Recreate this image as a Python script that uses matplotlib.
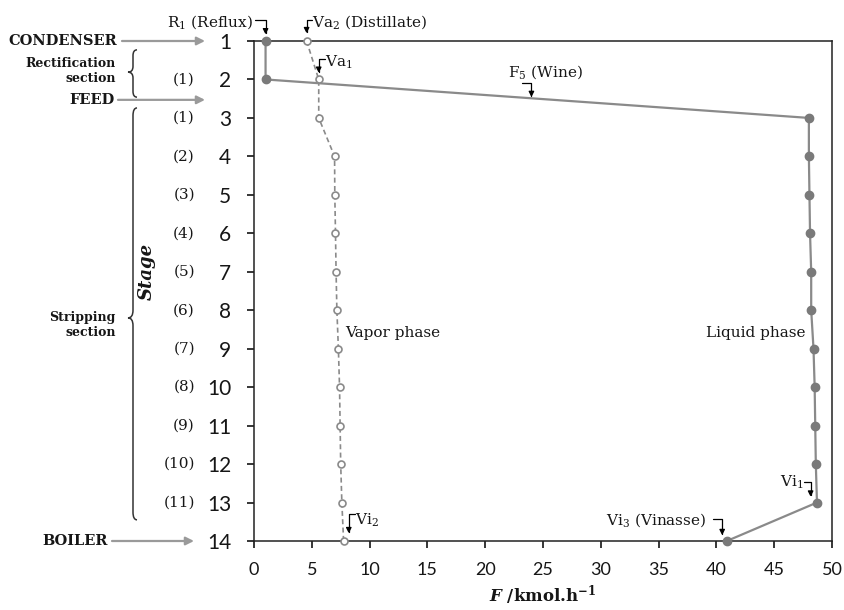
import numpy as np
import matplotlib
matplotlib.use('Agg')
import matplotlib.pyplot as plt
import matplotlib.transforms as mtransforms
from matplotlib.path import Path
from matplotlib.patches import PathPatch

plt.rcParams['mathtext.fontset'] = 'dejavuserif'

# stage numbers and flows (kmol/h)
stages = [1, 2, 3, 4, 5, 6, 7, 8, 9, 10, 11, 12, 13, 14]
liquid = [1.0, 1.0, 48.0, 48.0, 48.05, 48.1, 48.2, 48.2, 48.4, 48.5, 48.55, 48.6, 48.7, 40.9]
vapor = [4.55, 5.6, 5.6, 6.97, 6.99, 7.05, 7.1, 7.17, 7.3, 7.4, 7.45, 7.5, 7.6, 7.75]

# section numbering next to the stage ticks
sub_stages = [2, 3, 4, 5, 6, 7, 8, 9, 10, 11, 12, 13]
sub_labels = ['(1)', '(1)', '(2)', '(3)', '(4)', '(5)', '(6)', '(7)', '(8)', '(9)', '(10)', '(11)']

xticks = [0, 5, 10, 15, 20, 25, 30, 35, 40, 45, 50]

serif = 'DejaVu Serif'
txt_col = '#161616'
gray = '#8a8a8a'

fig = plt.figure(figsize=(8.45, 6.1), dpi=100)
ax = fig.add_axes([254 / 845, 1 - 541 / 610, 578 / 845, 500 / 610])

ax.plot(liquid, stages, '-', color=gray, lw=1.6, marker='o', ms=6,
        mfc='#7a7a7a', mec='#7a7a7a', clip_on=False, zorder=3)
ax.plot(vapor, stages, '--', color=gray, lw=1.2, dashes=(3, 2), marker='o', ms=5,
        mfc='white', mec=gray, mew=1.2, clip_on=False, zorder=3)

ax.set_xlim(0, 50)
ax.set_ylim(14, 1)
ax.set_xticks(xticks)
ax.set_yticks(stages)
ax.tick_params(axis='y', direction='out', length=5, width=1.1, pad=11.5, labelsize=15)
ax.tick_params(axis='x', direction='out', length=5, width=1.1, pad=10, labelsize=13)
for lab in ax.get_xticklabels() + ax.get_yticklabels():
    lab.set_fontfamily('Lato')
    lab.set_color(txt_col)
for sp in ax.spines.values():
    sp.set_linewidth(1.1)
    sp.set_color('#222222')

ax.set_xlabel(r'$\mathbfit{F}$ /kmol.h$^{\mathbf{-1}}$', fontfamily=serif,
              fontweight='bold', fontsize=12, labelpad=4, color=txt_col)

# left side annotations: x in inches from figure left, y in stage units
lt = mtransforms.blended_transform_factory(fig.dpi_scale_trans, ax.transData)

for s, lab in zip(sub_stages, sub_labels):
    ax.text(1.95, s, lab, transform=lt, ha='right', va='center', fontsize=11,
            fontfamily=serif, color=txt_col)

ax.text(1.47, 7.0, 'Stage', transform=lt, rotation=90, ha='center', va='center',
        fontsize=13, fontfamily=serif, fontstyle='italic', fontweight='bold', color=txt_col)

arrow_kw = dict(arrowstyle='-|>', color='#9a9a9a', lw=1.6, mutation_scale=12,
                shrinkA=0, shrinkB=0)
side = [('CONDENSER', 1.17, 1.0, 1.22, 2.05),
        ('FEED', 1.15, 2.53, 1.18, 2.05),
        ('BOILER', 1.08, 14.0, 1.12, 1.94)]
for name, xr, yy, xa, xb in side:
    ax.text(xr, yy, name, transform=lt, ha='right', va='center', fontsize=10.5,
            fontfamily=serif, fontweight='bold', color=txt_col)
    ax.annotate('', xy=(xb, yy), xycoords=lt, xytext=(xa, yy), textcoords=lt,
                arrowprops=arrow_kw, annotation_clip=False)

ax.text(1.16, 1.78, 'Rectification\nsection', transform=lt, ha='right', va='center',
        fontsize=9, fontfamily=serif, fontweight='bold', color=txt_col, linespacing=1.2)
ax.text(1.16, 8.38, 'Stripping\nsection', transform=lt, ha='right', va='center',
        fontsize=9, fontfamily=serif, fontweight='bold', color=txt_col, linespacing=1.2)


def brace(y0, y1, ym, r):
    xr, xs, xt = 1.37, 1.33, 1.28
    verts = [(xr, y0), (xs, y0), (xs, y0 + r), (xs, ym - r), (xs, ym), (xt, ym),
             (xs, ym), (xs, ym + r), (xs, y1 - r), (xs, y1), (xr, y1)]
    codes = [Path.MOVETO, Path.CURVE3, Path.CURVE3, Path.LINETO, Path.CURVE3, Path.CURVE3,
             Path.CURVE3, Path.CURVE3, Path.LINETO, Path.CURVE3, Path.CURVE3]
    p = PathPatch(Path(verts, codes), transform=lt, fill=False, lw=1.1,
                  edgecolor='#333333', clip_on=False)
    ax.add_patch(p)


brace(1.23, 2.46, 1.81, 0.15)
brace(2.74, 13.45, 8.2, 0.2)

# labels inside the plot
elbow = dict(arrowstyle='-|>', color='black', lw=0.9, mutation_scale=8,
             connectionstyle='angle,angleA=0,angleB=90,rad=0', shrinkA=0, shrinkB=0)


def tag(text, tx, ty, ha, start, tip):
    ax.text(tx, ty, text, ha=ha, va='center', fontsize=11, fontfamily=serif, color=txt_col)
    ax.annotate('', xy=tip, xytext=start, arrowprops=elbow, annotation_clip=False)


tag(r'R$_1$ (Reflux)', -0.1, 0.5, 'right', (0.1, 0.46), (liquid[0], 0.83))
tag(r'Va$_2$ (Distillate)', vapor[0] + 0.45, 0.5, 'left', (vapor[0] + 0.45, 0.46), (vapor[0], 0.8))
tag(r'Va$_1$', vapor[1] + 0.55, 1.55, 'left', (vapor[1] + 0.55, 1.48), (vapor[1], 1.83))

fx = 24.0
fy = stages[1] + (fx - liquid[1]) / (liquid[2] - liquid[1]) * (stages[2] - stages[1])
tag(r'F$_5$ (Wine)', fx + 1.2, 1.8, 'center', (fx - 0.8, 2.09), (fx, fy - 0.03))

tag(r'Vi$_1$', liquid[12] - 1.2, 12.48, 'right', (liquid[12] - 1.1, 12.47), (liquid[12] - 0.55, 12.85))
tag(r'Vi$_3$ (Vinasse)', liquid[13] - 1.8, 13.45, 'right', (liquid[13] - 1.2, 13.43), (liquid[13] - 0.4, 13.85))
tag(r'Vi$_2$', vapor[13] + 0.95, 13.45, 'left', (vapor[13] + 0.95, 13.3), (vapor[13] + 0.45, 13.8))

ax.text(7.9, 8.6, 'Vapor phase', ha='left', va='center', fontsize=11, fontfamily=serif, color=txt_col)
ax.text(47.75, 8.6, 'Liquid phase', ha='right', va='center', fontsize=11, fontfamily=serif, color=txt_col)

fig.savefig('out.png', dpi=100)
